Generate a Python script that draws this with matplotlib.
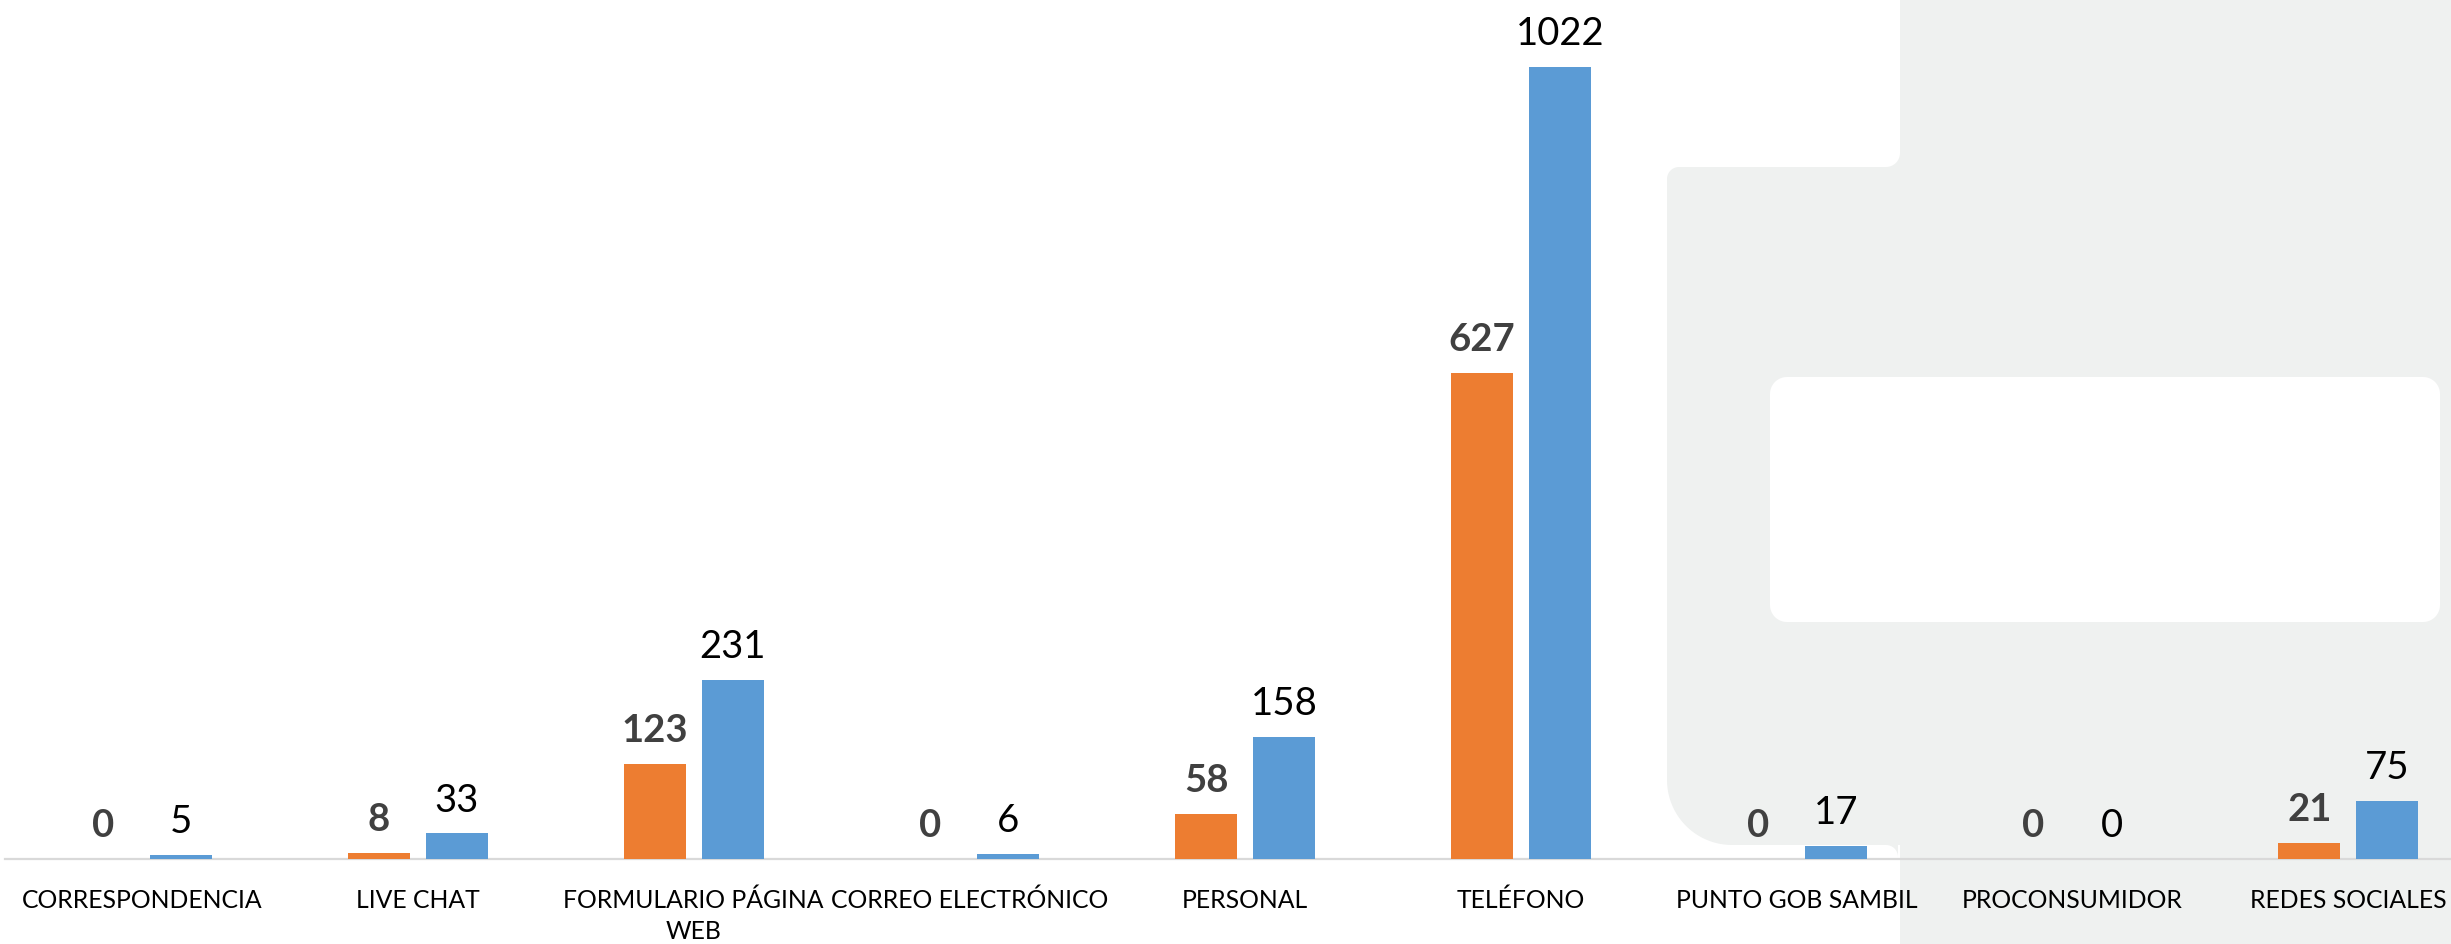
import matplotlib
matplotlib.use('Agg')
import matplotlib.pyplot as plt
import matplotlib.patches as mpatches
import numpy as np

plt.rcParams.update({
    'font.family': ['Lato', 'DejaVu Sans'],
    'figure.facecolor': 'white',
})

# ========== Data ==========
categories = ['CORRESPONDENCIA', 'LIVE CHAT', 'FORMULARIO PÁGINA\nWEB',
              'CORREO ELECTRÓNICO', 'PERSONAL', 'TELÉFONO',
              'PUNTO GOB SAMBIL', 'PROCONSUMIDOR', 'REDES SOCIALES']
serie_naranja = [0, 8, 123, 0, 58, 627, 0, 0, 21]
serie_azul = [5, 33, 231, 6, 158, 1022, 17, 0, 75]

c_naranja = '#ED7D31'
c_azul = '#5B9BD5'
c_fondo = '#eff1f0'

W, H = 2451, 945
fig = plt.figure(figsize=(W / 100, H / 100), dpi=100)


def rrect(x0, y0, x1, y1, rtl=0, rtr=0, rbr=0, rbl=0, n=24):
    # rounded rectangle in pixel coords (y grows downwards)
    pts = []
    for (cx, cy, r, a0, a1) in [(x0 + rtl, y0 + rtl, rtl, 180, 270),
                                (x1 - rtr, y0 + rtr, rtr, 270, 360),
                                (x1 - rbr, y1 - rbr, rbr, 0, 90),
                                (x0 + rbl, y1 - rbl, rbl, 90, 180)]:
        t = np.radians(np.linspace(a0, a1, n))
        pts += list(zip(cx + r * np.cos(t), cy + r * np.sin(t)))
    return np.array(pts)


# ========== Decorative background ==========
bg = fig.add_axes([0, 0, 1, 1], zorder=0)
bg.set_xlim(0, W)
bg.set_ylim(H, 0)
bg.axis('off')
bg.add_patch(mpatches.Polygon(rrect(1900, -5, W + 10, H + 10), color=c_fondo, lw=0))
bg.add_patch(mpatches.Polygon(rrect(1667, 168, W + 10, 846, rtl=12, rbl=65),
                              color=c_fondo, lw=0))
# soft inner corners
bg.add_patch(mpatches.Rectangle((1886, 154), 14, 14, color=c_fondo, lw=0))
bg.add_patch(mpatches.Circle((1886, 154), 14, color='white', lw=0))
bg.add_patch(mpatches.Rectangle((1886, 846), 12, 12, color=c_fondo, lw=0))
bg.add_patch(mpatches.Circle((1886, 858), 12, color='white', lw=0))
bg.add_patch(mpatches.Polygon(rrect(1770, 378, 2440, 623, 17, 17, 17, 17),
                              color='white', lw=0))

# ========== Bars ==========
ax = fig.add_axes([0, 85 / H, 1, 1 - 85 / H], zorder=1)
ax.patch.set_alpha(0)

x = np.arange(len(categories))
paso = 275.8
xmin = -142 / paso
xmax = (W - 142) / paso
bw = 62 / paso
off = 39 / paso

ax.bar(x - off, serie_naranja, bw, color=c_naranja, zorder=3)
ax.bar(x + off, serie_azul, bw, color=c_azul, zorder=3)

ax.set_xlim(xmin, xmax)
ax.set_ylim(0, 1110)
for s in ['top', 'left', 'right']:
    ax.spines[s].set_visible(False)
ax.spines['bottom'].set_color('#d9d9d9')
ax.spines['bottom'].set_linewidth(1.6)
ax.spines['bottom'].set_bounds(xmin + 5 / paso, xmax)
ax.set_xticks([])
ax.set_yticks([])

for i in range(len(categories)):
    ax.annotate(str(serie_naranja[i]), (x[i] - off, serie_naranja[i]),
                xytext=(0, 16.5), textcoords='offset points',
                ha='center', va='baseline', fontsize=27.5,
                fontweight='bold', color='#404040')
    ax.annotate(str(serie_azul[i]), (x[i] + off, serie_azul[i]),
                xytext=(0, 16.5), textcoords='offset points',
                ha='center', va='baseline', fontsize=27.5, color='black')
    extra = categories[i].count('\n')
    ax.annotate(categories[i], (x[i], 0),
                xytext=(0, -34.5 - 22.1 * extra), textcoords='offset points',
                ha='center', va='baseline', fontsize=17.8, color='black',
                annotation_clip=False, linespacing=1.38)

fig.savefig('out.png', dpi=100)
